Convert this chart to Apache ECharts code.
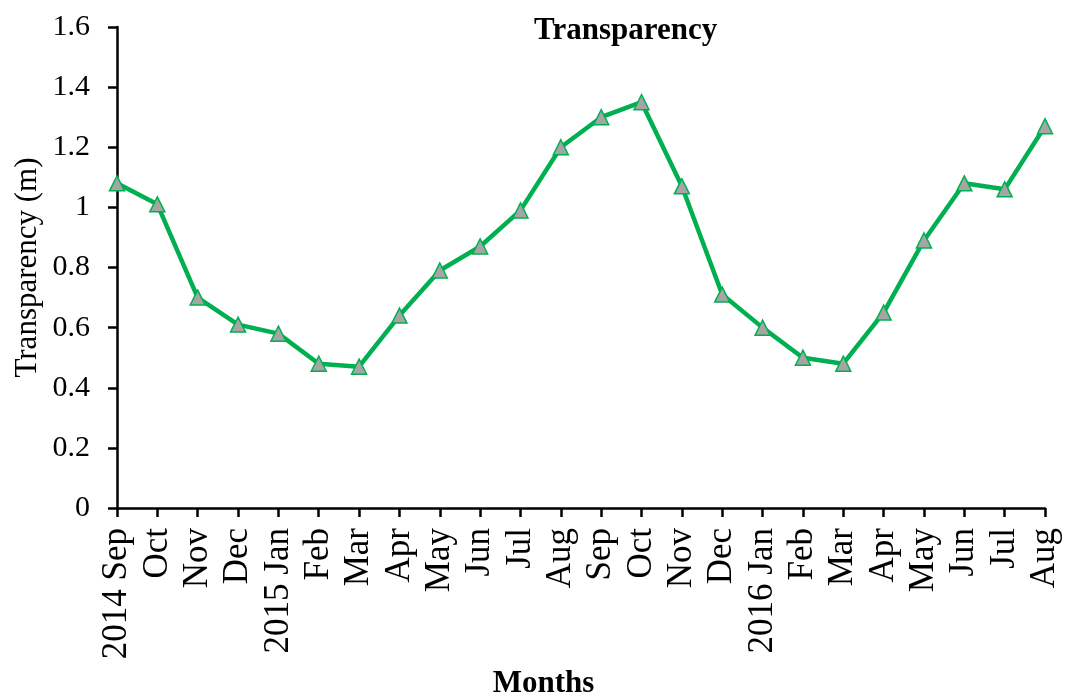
<!DOCTYPE html>
<html>
<head>
<meta charset="utf-8">
<title>Transparency</title>
<script src="https://cdn.jsdelivr.net/npm/echarts@6/dist/echarts.min.js"></script>
<style>
  html, body { margin: 0; padding: 0; background: #fff; }
  #main { width: 1072px; height: 697px; }
</style>
</head>
<body>
<div id="main"></div>
<script>
// months, Sep 2014 - Aug 2016
const months = ['2014 Sep', 'Oct', 'Nov', 'Dec', '2015 Jan', 'Feb', 'Mar', 'Apr', 'May', 'Jun', 'Jul', 'Aug',
  'Sep', 'Oct', 'Nov', 'Dec', '2016 Jan', 'Feb', 'Mar', 'Apr', 'May', 'Jun', 'Jul', 'Aug'];

// transparency (m)
const transparency = [1.08, 1.01, 0.70, 0.61, 0.58, 0.48, 0.47, 0.64, 0.79, 0.87, 0.99, 1.20,
  1.30, 1.35, 1.07, 0.71, 0.60, 0.50, 0.48, 0.65, 0.89, 1.08, 1.06, 1.27];

const serif = '"Liberation Serif", "Times New Roman", serif';

const chart = echarts.init(document.getElementById('main'));
chart.setOption({
  animation: false,
  backgroundColor: '#fff',
  title: {
    text: 'Transparency',
    left: 529,
    top: 10,
    textStyle: { fontFamily: serif, fontSize: 31, fontWeight: 'bold', color: '#000' }
  },
  grid: { left: 117, right: 27, top: 27, bottom: 189, outerBoundsMode: 'none', containLabel: false },
  xAxis: {
    type: 'category',
    data: months,
    boundaryGap: false,
    name: 'Months',
    nameLocation: 'middle',
    nameGap: 160,
    nameMoveOverlap: false,
    nameTextStyle: { fontFamily: serif, fontSize: 31, fontWeight: 'bold', color: '#000', padding: [0, 0, 0, -75] },
    axisLine: { lineStyle: { color: '#000', width: 2.5 } },
    axisTick: { show: true, inside: false, length: 9, alignWithLabel: true, lineStyle: { color: '#000', width: 2.5 } },
    axisLabel: {
      rotate: 90,
      interval: 0,
      margin: 20,
      fontFamily: serif,
      fontSize: 35,
      color: '#000'
    },
    splitLine: { show: false }
  },
  yAxis: {
    type: 'value',
    min: 0,
    max: 1.6,
    interval: 0.2,
    name: 'Transparency (m)',
    nameLocation: 'middle',
    nameGap: 74,
    nameMoveOverlap: false,
    nameTextStyle: { fontFamily: serif, fontSize: 31, color: '#000' },
    axisLine: { show: true, lineStyle: { color: '#000', width: 2.5 } },
    axisTick: { show: true, inside: false, length: 9, lineStyle: { color: '#000', width: 2.5 } },
    axisLabel: { margin: 27, fontFamily: serif, fontSize: 30, color: '#000' },
    splitLine: { show: false }
  },
  series: [{
    type: 'line',
    data: transparency,
    symbol: 'triangle',
    symbolSize: 15,
    showAllSymbol: true,
    lineStyle: { color: '#00B050', width: 4.5 },
    itemStyle: { color: '#A5A5A5', borderColor: '#00B050', borderWidth: 1.5 }
  }]
});
</script>
</body>
</html>
